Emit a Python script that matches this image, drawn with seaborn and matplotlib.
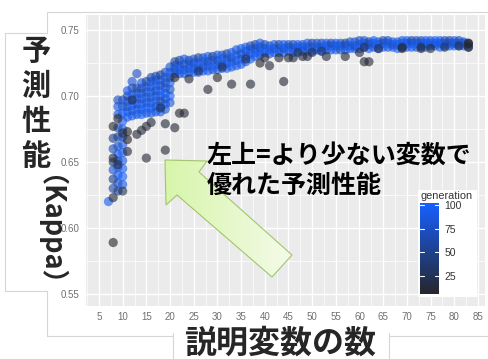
import numpy as np
import pandas as pd
import matplotlib
matplotlib.use("Agg")
import matplotlib.pyplot as plt
import seaborn as sns
from matplotlib.colors import LinearSegmentedColormap, Normalize
from matplotlib.patches import Polygon, Rectangle
from matplotlib.ticker import MultipleLocator, FormatStrFormatter
from matplotlib.cm import ScalarMappable

# ---------------- data ----------------
n_vars = [
    7,
    8, 8, 8, 8, 8, 8,
    9, 9, 9, 9, 9, 9, 9, 9, 9, 9, 9, 9,
    10, 10, 10, 10, 10, 10, 10, 10, 10, 10, 10, 10,
    11, 11, 11, 11, 11, 11,
    12, 12, 12, 12, 12, 12, 12,
    13, 13, 13, 13, 13, 13, 13,
    14, 14, 14, 14, 14, 14, 14,
    15, 15, 15, 15, 15, 15, 15,
    16, 16, 16, 16, 16, 16, 16, 16,
    17, 17, 17, 17, 17, 17, 17, 17,
    18, 18, 18, 18, 18, 18, 18, 18,
    19, 19, 19, 19, 19, 19, 19, 19,
    20, 20, 20, 20, 20, 20, 20,
    21, 21, 21, 21, 22, 22, 22, 22, 23, 23, 23, 23, 24, 24, 24, 24,
    25, 25, 25, 25, 26, 26, 26, 26, 27, 27, 27, 27, 28, 28, 28, 28,
    29, 29, 29, 29, 30, 30, 30, 30, 31, 31, 31, 31, 32, 32, 32, 32,
    33, 33, 33, 33, 34, 34, 34, 34, 35, 35, 35, 35, 36, 36, 36, 36,
    37, 37, 37, 37, 38, 38, 38, 38, 39, 39, 39, 39,
    40, 40, 40, 41, 41, 41, 42, 42, 42, 43, 43, 43, 44, 44, 44,
    45, 45, 45, 46, 46, 46, 47, 47, 47, 48, 48, 48, 49, 49, 49,
    50, 50, 50, 51, 51, 51, 52, 52, 52, 53, 53, 53, 54, 54, 54,
    55, 55, 55, 56, 56, 56, 57, 57, 57, 58, 58, 58, 59, 59, 59,
    60, 60, 60, 61, 61, 61, 62, 62, 62, 63, 63, 63, 64, 64, 64,
    65, 65, 65, 66, 66, 66, 67, 67, 67, 68, 68, 68, 69, 69, 69,
    70, 70, 70, 71, 71, 71, 72, 72, 72, 73, 73, 73, 74, 74, 74,
    75, 75, 75, 76, 76, 76, 77, 77, 77, 78, 78, 78, 79, 79, 79,
    80, 80, 80, 81, 81, 81, 82, 82, 82, 83, 83, 83,
    # early-generation outliers
    8, 8, 8, 8, 9, 11, 11, 11, 13, 14, 15, 16, 15, 19, 19, 21, 22, 23,
    21, 24, 28, 30, 33, 37, 39, 40, 41, 43, 44, 45, 46, 48, 49, 53,
    57, 60, 61, 62, 69, 73, 75, 83, 83,
    # middle generations inside the band
    18, 12, 10, 9, 10, 47, 50, 52, 61, 64, 69, 73, 78, 81, 26, 31, 36,
]

kappa = [
    0.620,
    0.630, 0.637, 0.644, 0.650, 0.660, 0.668,
    0.628, 0.634, 0.640, 0.646, 0.651, 0.656, 0.662, 0.669, 0.676, 0.686, 0.692, 0.697,
    0.633, 0.639, 0.645, 0.651, 0.657, 0.663, 0.669, 0.675, 0.681, 0.687, 0.692, 0.697,
    0.684, 0.688, 0.692, 0.696, 0.700, 0.704,
    0.685, 0.689, 0.693, 0.697, 0.701, 0.706, 0.711,
    0.686, 0.690, 0.694, 0.698, 0.702, 0.706, 0.717,
    0.686, 0.690, 0.694, 0.698, 0.702, 0.706, 0.710,
    0.687, 0.691, 0.695, 0.699, 0.703, 0.707, 0.711,
    0.687, 0.691, 0.695, 0.699, 0.703, 0.707, 0.711, 0.714,
    0.688, 0.692, 0.696, 0.700, 0.704, 0.708, 0.712, 0.715,
    0.688, 0.692, 0.696, 0.700, 0.704, 0.708, 0.712, 0.716,
    0.690, 0.694, 0.698, 0.702, 0.706, 0.710, 0.714, 0.718,
    0.695, 0.700, 0.705, 0.710, 0.714, 0.718, 0.722,
    0.717, 0.720, 0.723, 0.726, 0.717, 0.720, 0.723, 0.727,
    0.717, 0.720, 0.724, 0.728, 0.718, 0.721, 0.724, 0.727,
    0.718, 0.721, 0.725, 0.728, 0.718, 0.722, 0.725, 0.729,
    0.719, 0.722, 0.726, 0.729, 0.719, 0.723, 0.726, 0.730,
    0.720, 0.723, 0.727, 0.730, 0.720, 0.724, 0.727, 0.731,
    0.721, 0.724, 0.728, 0.731, 0.721, 0.725, 0.728, 0.732,
    0.722, 0.726, 0.729, 0.733, 0.723, 0.727, 0.731, 0.735,
    0.724, 0.728, 0.732, 0.736, 0.726, 0.730, 0.734, 0.737,
    0.728, 0.732, 0.735, 0.738, 0.730, 0.733, 0.736, 0.739,
    0.731, 0.734, 0.737, 0.740,
    0.733, 0.736, 0.739, 0.732, 0.735, 0.738, 0.733, 0.736, 0.739,
    0.733, 0.736, 0.739, 0.733, 0.736, 0.739,
    0.734, 0.737, 0.739, 0.733, 0.736, 0.739, 0.734, 0.737, 0.739,
    0.734, 0.737, 0.739, 0.734, 0.737, 0.740,
    0.734, 0.737, 0.740, 0.735, 0.737, 0.740, 0.734, 0.737, 0.740,
    0.735, 0.738, 0.740, 0.735, 0.738, 0.740,
    0.735, 0.738, 0.740, 0.735, 0.738, 0.740, 0.735, 0.738, 0.740,
    0.736, 0.738, 0.741, 0.736, 0.738, 0.741,
    0.736, 0.739, 0.742, 0.737, 0.740, 0.742, 0.736, 0.739, 0.741,
    0.737, 0.740, 0.742, 0.736, 0.739, 0.741,
    0.737, 0.740, 0.742, 0.737, 0.740, 0.742, 0.737, 0.739, 0.741,
    0.736, 0.739, 0.741, 0.737, 0.740, 0.742,
    0.737, 0.740, 0.742, 0.737, 0.740, 0.742, 0.737, 0.740, 0.742,
    0.738, 0.740, 0.742, 0.737, 0.740, 0.742,
    0.738, 0.740, 0.742, 0.738, 0.740, 0.742, 0.737, 0.740, 0.742,
    0.738, 0.740, 0.742, 0.738, 0.740, 0.742,
    0.738, 0.740, 0.742, 0.738, 0.740, 0.742, 0.738, 0.740, 0.741,
    0.737, 0.739, 0.740,
    # early-generation outliers
    0.589, 0.623, 0.653, 0.677, 0.683, 0.667, 0.658, 0.673, 0.671, 0.674,
    0.677, 0.680, 0.653, 0.659, 0.679, 0.676, 0.687, 0.687,
    0.714, 0.713, 0.705, 0.714, 0.709, 0.709, 0.725, 0.729, 0.723, 0.729,
    0.711, 0.729, 0.729, 0.730, 0.730, 0.730,
    0.730, 0.733, 0.726, 0.726, 0.736, 0.736, 0.736, 0.737, 0.740,
    # middle generations inside the band
    0.691, 0.697, 0.672, 0.648, 0.628, 0.733, 0.733, 0.734, 0.737, 0.736,
    0.737, 0.737, 0.737, 0.738, 0.719, 0.722, 0.728,
]

generation = [
    100,
    60, 45, 80, 35, 70, 50,
    50, 72, 88, 93, 60, 97, 78, 55, 66, 82, 90, 72,
    90, 100, 95, 86, 98, 92, 80, 88, 96, 99, 85, 75,
    90, 100, 70, 85, 60, 95,
    95, 80, 100, 65, 90, 75, 85,
    88, 99, 70, 92, 80, 60, 75,
    97, 85, 100, 75, 90, 65, 88,
    92, 100, 80, 95, 70, 85, 60,
    85, 98, 90, 72, 100, 80, 93, 65,
    95, 75, 100, 88, 68, 96, 82, 70,
    90, 100, 60, 85, 97, 78, 92, 55,
    80, 95, 70, 100, 88, 62, 90, 75,
    85, 99, 75, 92, 68, 100, 80,
    95, 70, 88, 60, 100, 80, 93, 55,
    85, 97, 70, 90, 99, 78, 92, 65,
    88, 100, 72, 85, 95, 80, 98, 60,
    90, 70, 100, 82, 100, 85, 65, 92,
    78, 96, 88, 55, 92, 100, 70, 85,
    85, 75, 98, 90, 99, 80, 92, 60,
    88, 100, 70, 95, 96, 78, 100, 85,
    90, 100, 65, 93, 85, 97, 75, 100,
    100, 80, 95, 70, 92, 100, 85, 60,
    88, 98, 75, 95,
    90, 100, 70, 75, 98, 85, 100, 80, 92,
    88, 95, 60, 97, 72, 100,
    85, 100, 78, 100, 90, 65, 92, 75, 98,
    80, 100, 88, 99, 70, 93,
    90, 100, 60, 75, 96, 85, 100, 88, 72,
    93, 80, 100, 85, 100, 65,
    100, 78, 90, 70, 95, 88, 98, 85, 60,
    88, 100, 75, 95, 70, 92,
    92, 100, 70, 80, 97, 88, 100, 85, 60,
    90, 75, 99, 70, 100, 93,
    98, 82, 65, 88, 100, 75, 95, 68, 90,
    100, 85, 97, 78, 100, 88,
    93, 72, 100, 100, 90, 65, 85, 98, 78,
    92, 100, 70, 100, 80, 95,
    75, 99, 88, 90, 70, 100, 100, 85, 93,
    82, 100, 72, 97, 88, 60,
    100, 75, 92, 85, 98, 70, 93, 100, 80,
    60, 45, 30,
    # early-generation outliers
    5, 12, 14, 12, 9, 5, 13, 8, 12, 14,
    12, 15, 13, 12, 14, 12, 6, 12,
    5, 13, 12, 6, 12, 14, 6, 13, 14, 8,
    12, 14, 15, 13, 15, 14,
    12, 15, 12, 13, 15, 14, 16, 8, 5,
    # middle generations inside the band
    25, 30, 20, 22, 25, 30, 25, 35, 30, 25,
    20, 35, 28, 22, 30, 28, 25,
]

gen_ticks = [25, 50, 75, 100]
x_ticks = list(range(5, 90, 5))
y_ticks = [0.55, 0.60, 0.65, 0.70, 0.75]

assert len(n_vars) == len(kappa) == len(generation)
df = pd.DataFrame({"n_vars": n_vars, "kappa": kappa, "generation": generation})

# ---------------- styling ----------------
sns.set_theme(style="darkgrid", rc={
    "axes.facecolor": "#ebebeb",
    "grid.color": "white",
    "axes.edgecolor": "none",
    "figure.facecolor": "white",
})
plt.rcParams["font.family"] = ["Liberation Sans", "DejaVu Sans"]
CJK = ["Noto Sans CJK JP", "DejaVu Sans"]

W, H = 488, 359
fig = plt.figure(figsize=(W / 100, H / 100), dpi=100)
ax = fig.add_axes([86 / W, 1 - 306 / H, 399 / W, 291 / H])

cmap = LinearSegmentedColormap.from_list("gen", ["#26262b", "#1760ff"])
norm = Normalize(vmin=6, vmax=102)

sns.scatterplot(data=df, x="n_vars", y="kappa", hue="generation",
                palette=cmap, hue_norm=norm, s=44, alpha=0.62,
                linewidth=0, legend=False, ax=ax)

ax.set_xlim(2.26, 86.5)
ax.set_ylim(0.5409, 0.7614)
ax.set_xticks(x_ticks)
ax.set_yticks(y_ticks)
ax.yaxis.set_major_formatter(FormatStrFormatter("%.2f"))
ax.xaxis.set_minor_locator(MultipleLocator(2.5))
ax.yaxis.set_minor_locator(MultipleLocator(0.025))
ax.grid(which="major", color="white", linewidth=1.0)
ax.grid(which="minor", color="white", linewidth=0.5)
ax.tick_params(which="major", length=3, width=0.6, color="#8a8a8a",
               labelsize=7, labelcolor="#707070", pad=1.5)
ax.tick_params(which="minor", length=0)
ax.set_xlabel("")
ax.set_ylabel("")
for s in ax.spines.values():
    s.set_visible(False)

# ---------------- overlay (pixel coordinates) ----------------
ov = fig.add_axes([0, 0, 1, 1], zorder=5)
ov.set_xlim(0, W)
ov.set_ylim(H, 0)
ov.axis("off")
ov.patch.set_alpha(0)

bc = "#d6d6d6"
segs = [
    [(47, 12), (W, 12)], [(47, 12), (47, 33)], [(5, 33), (47, 33)],
    [(5, 33), (5, 291)], [(5, 291), (47, 291)], [(47, 291), (47, 336)],
    [(47, 336), (173, 336)], [(389, 336), (W, 336)],
    [(173, H), (173, 333)], [(389, 333), (389, H)],
]
for seg in segs:
    (x0, y0), (x1, y1) = seg
    ov.plot([x0, x1], [y0, y1], color=bc, lw=0.8, zorder=1)

# legend box
ov.add_patch(Rectangle((418, 190), 59, 107, facecolor="white",
                       edgecolor="none", zorder=1))
ov.text(447, 196, "generation", fontsize=7.8, color="#333333",
        ha="center", va="center", zorder=6)

# arrow with gradient fill
arrow_pts = [(165, 160), (207, 161), (199, 172), (292, 255),
             (272, 277), (177, 195), (166, 205)]
poly = Polygon(arrow_pts, closed=True, facecolor="none",
               edgecolor="#a3c46c", lw=0.8, zorder=3)
ov.add_patch(poly)
gx = np.linspace(0, 1, 64)
head_c = np.array([214, 245, 168]) / 255
tail_c = np.array([244, 251, 234]) / 255
grad = (1 - gx)[:, None] * head_c + gx[:, None] * tail_c
img = np.tile(grad[None, :, :], (64, 1, 1))
im = ov.imshow(img, extent=(160, 295, 280, 157), origin="upper",
               aspect="auto", zorder=2, interpolation="bilinear")
clip = Polygon(arrow_pts, closed=True, transform=ov.transData)
im.set_clip_path(clip)
ov.set_xlim(0, W)
ov.set_ylim(H, 0)

# annotation text
ov.text(207, 156, "左上=より少ない変数で", family=CJK, fontweight="bold",
        fontsize=18, color="black", ha="left", va="center", zorder=6)
ov.text(207, 186, "優れた予測性能", family=CJK, fontweight="bold",
        fontsize=18, color="black", ha="left", va="center", zorder=6)

# y label (vertical)
for ch, yc in zip("予測性能", [51, 86, 121, 156]):
    ov.text(36, yc, ch, family=CJK, fontweight="bold", fontsize=21,
            ha="center", va="center", zorder=6)
ov.text(36, 244, "（Kappa）", family=CJK, fontweight="bold", fontsize=19.5,
        rotation=270, ha="center", va="center", zorder=6)

# x label
ov.text(280, 344, "説明変数の数", family=CJK, fontweight="bold", fontsize=23,
        ha="center", va="center", zorder=6)

# colour bar
cax = fig.add_axes([420 / W, 1 - 294 / H, 19 / W, 91 / H], zorder=7)
sm = ScalarMappable(norm=norm, cmap=cmap)
cb = fig.colorbar(sm, cax=cax)
cb.outline.set_visible(False)
cb.set_ticks(gen_ticks)
cax.tick_params(length=0, labelsize=7.5, pad=4, colors="#333333")
for v in gen_ticks:
    cax.axhline(v, xmin=0, xmax=0.2, color="white", lw=0.8)
    cax.axhline(v, xmin=0.8, xmax=1, color="white", lw=0.8)

fig.savefig("out.png", dpi=100)
